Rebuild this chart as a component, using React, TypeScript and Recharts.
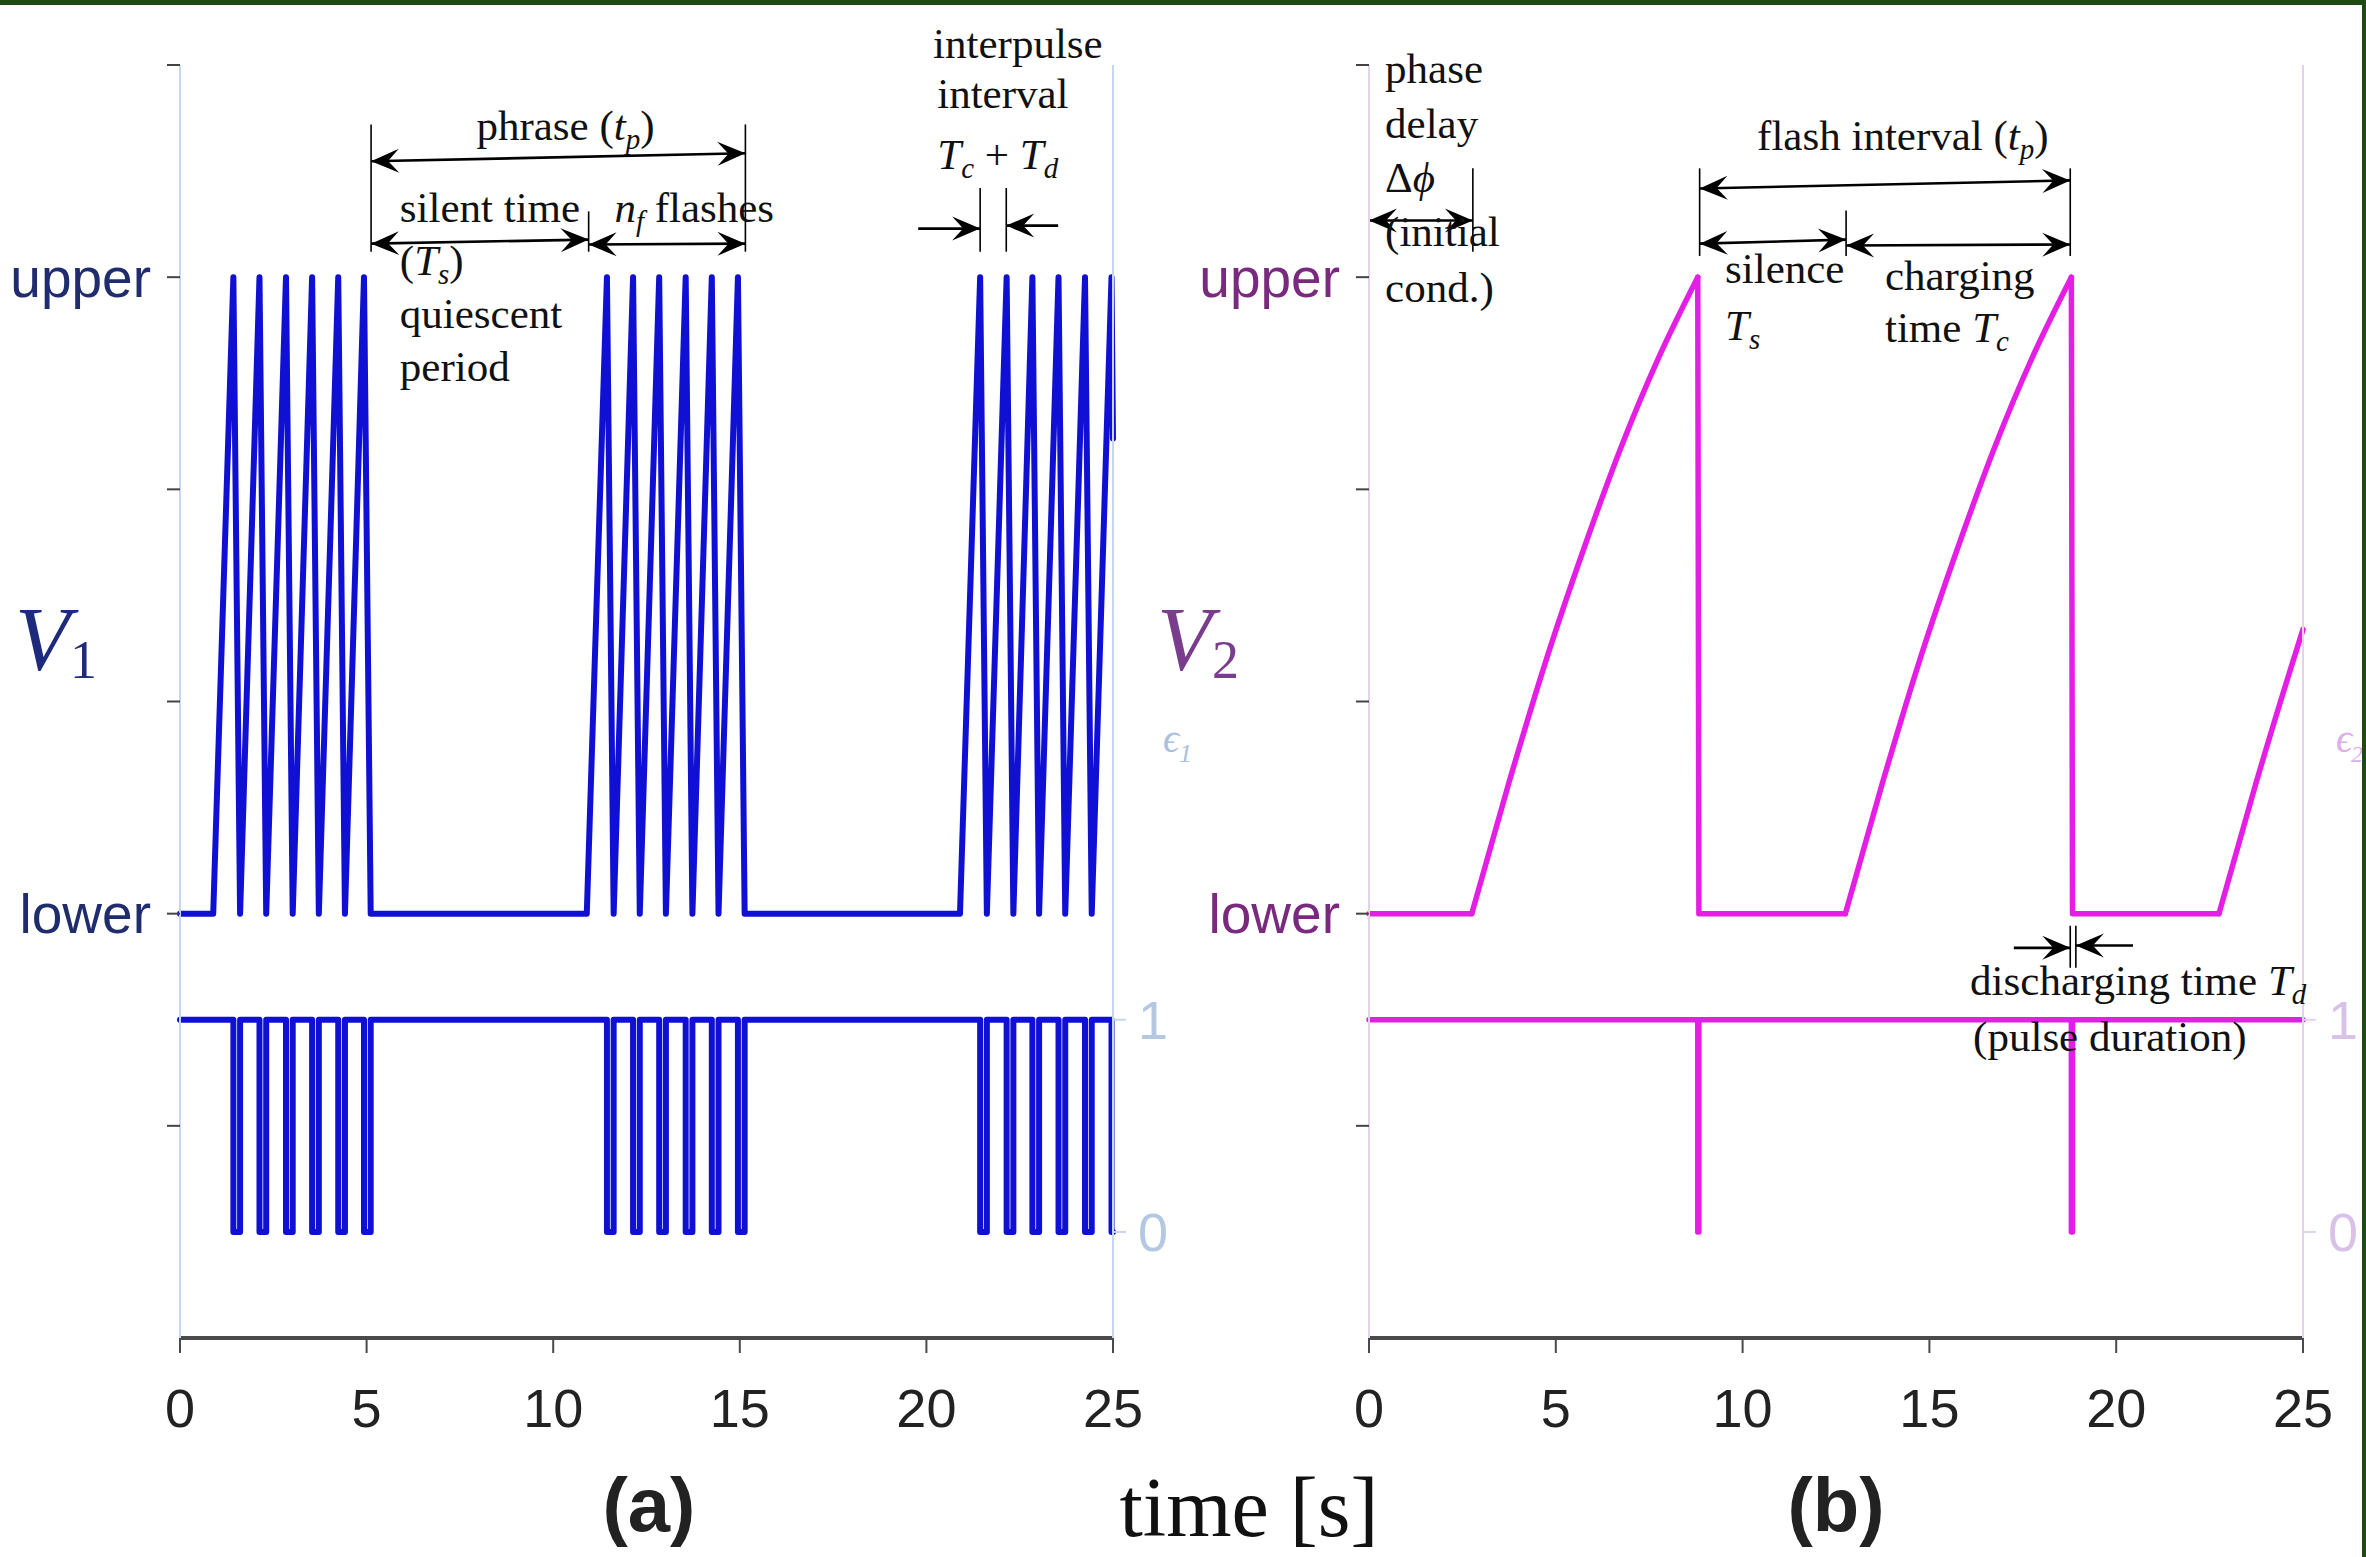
import React from 'react';
import { LineChart, Line, XAxis, YAxis, ReferenceLine, ReferenceDot } from 'recharts';

// shared axes
const X_TICKS = [0, 5, 10, 15, 20, 25];
const LEVEL_TICKS = [-1, 0, 1, 2, 3, 4];
const LEVEL_NAMES: Record<number, string> = { 0: 'lower', 3: 'upper' };
const EPS_TICKS = [0, 1];

type Pt = [number, number | null];

// (a) bursting flasher: [time s, level] with lower = 0, upper = 3
const v1Trace: Pt[] = [
  [0, 0], [0.89, 0],
  [1.43, 3], [1.61, 0], [2.13, 3], [2.31, 0], [2.84, 3], [3.02, 0],
  [3.54, 3], [3.72, 0], [4.24, 3], [4.42, 0], [4.93, 3], [5.11, 0],
  [10.9, 0],
  [11.44, 3], [11.62, 0], [12.14, 3], [12.32, 0], [12.84, 3], [13.02, 0],
  [13.55, 3], [13.73, 0], [14.25, 3], [14.43, 0], [14.95, 3], [15.13, 0],
  [20.9, 0],
  [21.44, 3], [21.62, 0], [22.15, 3], [22.33, 0], [22.84, 3], [23.02, 0],
  [23.54, 3], [23.72, 0], [24.25, 3], [24.43, 0], [24.96, 3], [25, 2.24],
];

const eps1Trace: Pt[] = [
  [0, 1],
  [1.43, 1], [1.43, 0], [1.61, 0], [1.61, 1],
  [2.13, 1], [2.13, 0], [2.31, 0], [2.31, 1],
  [2.84, 1], [2.84, 0], [3.02, 0], [3.02, 1],
  [3.54, 1], [3.54, 0], [3.72, 0], [3.72, 1],
  [4.24, 1], [4.24, 0], [4.42, 0], [4.42, 1],
  [4.93, 1], [4.93, 0], [5.11, 0], [5.11, 1],
  [11.44, 1], [11.44, 0], [11.62, 0], [11.62, 1],
  [12.14, 1], [12.14, 0], [12.32, 0], [12.32, 1],
  [12.84, 1], [12.84, 0], [13.02, 0], [13.02, 1],
  [13.55, 1], [13.55, 0], [13.73, 0], [13.73, 1],
  [14.25, 1], [14.25, 0], [14.43, 0], [14.43, 1],
  [14.95, 1], [14.95, 0], [15.13, 0], [15.13, 1],
  [21.44, 1], [21.44, 0], [21.62, 0], [21.62, 1],
  [22.15, 1], [22.15, 0], [22.33, 0], [22.33, 1],
  [22.84, 1], [22.84, 0], [23.02, 0], [23.02, 1],
  [23.54, 1], [23.54, 0], [23.72, 0], [23.72, 1],
  [24.25, 1], [24.25, 0], [24.43, 0], [24.43, 1],
  [24.96, 1], [24.96, 0], [25, 0],
];

// (b) single flasher: smooth charging ramps, then reset / idle at lower
const v2Charge1: Pt[] = [[2.75, 0], [3.75, 0.62], [4.75, 1.2], [5.75, 1.72], [6.75, 2.2], [7.75, 2.62], [8.8, 3]];
const v2Charge2: Pt[] = [[12.75, 0], [13.75, 0.62], [14.75, 1.2], [15.75, 1.72], [16.75, 2.2], [17.75, 2.62], [18.8, 3]];
const v2Charge3: Pt[] = [[22.75, 0], [23.75, 0.62], [24.75, 1.2], [25, 1.34]];
const v2Idle: Pt[] = [
  [0, 0], [2.75, 0], [5, null],
  [8.8, 3], [8.83, 0], [12.75, 0], [15, null],
  [18.8, 3], [18.83, 0], [22.75, 0],
];

const eps2Trace: Pt[] = [
  [0, 1], [8.8, 1], [8.8, 0], [8.83, 0], [8.83, 1],
  [18.8, 1], [18.8, 0], [18.83, 0], [18.83, 1], [25, 1],
];

type Head = 'none' | 'end' | 'both';
type Seg = { from: [number, number]; to: [number, number]; head: Head };
type Part = string | [string, string];
type Note = { at: [number, number]; parts: Part[]; anchor?: 'start' | 'middle' };

// annotation geometry in (time, level) units
const segsA: Seg[] = [
  { from: [5.12, 3.12], to: [5.12, 3.72], head: 'none' },
  { from: [15.15, 3.12], to: [15.15, 3.72], head: 'none' },
  { from: [5.12, 3.546], to: [15.15, 3.584], head: 'both' },
  { from: [10.95, 3.12], to: [10.95, 3.31], head: 'none' },
  { from: [5.12, 3.158], to: [10.95, 3.177], head: 'both' },
  { from: [10.95, 3.154], to: [15.15, 3.158], head: 'both' },
  { from: [21.44, 3.12], to: [21.44, 3.42], head: 'none' },
  { from: [22.14, 3.12], to: [22.14, 3.42], head: 'none' },
  { from: [19.78, 3.229], to: [21.44, 3.229], head: 'end' },
  { from: [23.53, 3.243], to: [22.14, 3.243], head: 'end' },
];

const notesA: Note[] = [
  { at: [10.33, 3.71], parts: ['phrase (', ['t', 'p'], ')'], anchor: 'middle' },
  { at: [5.89, 3.32], parts: ['silent time'] },
  { at: [5.89, 3.07], parts: ['(', ['T', 's'], ')'] },
  { at: [5.89, 2.82], parts: ['quiescent'] },
  { at: [5.89, 2.57], parts: ['period'] },
  { at: [11.64, 3.32], parts: [['n', 'f'], ' flashes'] },
  { at: [20.18, 4.095], parts: ['interpulse'] },
  { at: [20.29, 3.858], parts: ['interval'] },
  { at: [20.29, 3.57], parts: [['T', 'c'], ' + ', ['T', 'd']] },
];

const segsB: Seg[] = [
  { from: [0, 3.12], to: [0, 3.513], head: 'none' },
  { from: [2.78, 3.12], to: [2.78, 3.513], head: 'none' },
  { from: [0, 3.267], to: [2.78, 3.267], head: 'both' },
  { from: [8.85, 3.1], to: [8.85, 3.513], head: 'none' },
  { from: [18.77, 3.1], to: [18.77, 3.513], head: 'none' },
  { from: [8.85, 3.418], to: [18.77, 3.456], head: 'both' },
  { from: [12.77, 3.1], to: [12.77, 3.314], head: 'none' },
  { from: [8.85, 3.158], to: [12.77, 3.177], head: 'both' },
  { from: [12.77, 3.149], to: [18.77, 3.154], head: 'both' },
  { from: [18.77, -0.057], to: [18.77, -0.255], head: 'none' },
  { from: [18.92, -0.057], to: [18.92, -0.255], head: 'none' },
  { from: [17.26, -0.161], to: [18.77, -0.161], head: 'end' },
  { from: [20.45, -0.15], to: [18.92, -0.15], head: 'end' },
];

const notesB: Note[] = [
  { at: [0.43, 3.976], parts: ['phase'] },
  { at: [0.43, 3.716], parts: ['delay'] },
  { at: [0.43, 3.461], parts: ['Δ', ['ϕ', '']] },
  { at: [0.43, 3.206], parts: ['(initial'] },
  { at: [0.43, 2.946], parts: ['cond.)'] },
  { at: [14.29, 3.66], parts: ['flash interval (', ['t', 'p'], ')'], anchor: 'middle' },
  { at: [9.53, 3.035], parts: ['silence'] },
  { at: [9.53, 2.766], parts: [['T', 's']] },
  { at: [13.81, 3.0], parts: ['charging'] },
  { at: [13.81, 2.757], parts: ['time ', ['T', 'c']] },
  { at: [16.09, -0.32], parts: ['discharging time ', ['T', 'd']] },
  { at: [16.17, -0.586], parts: ['(pulse duration)'] },
];

const SANS = "'Liberation Sans', Arial, sans-serif";
const SERIF = "'Liberation Serif', 'DejaVu Serif', serif";
const NOTE_SIZE = 43;

const toPts = (tr: Pt[]) => tr.map(([t, v]) => ({ t, v }));

function head(x: number, y: number, ux: number, uy: number, key: string) {
  const L = 28, W = 12, B = 17;
  const nx = -uy, ny = ux;
  const bx = x - ux * L, by = y - uy * L;
  const pts = [
    [x, y],
    [bx + nx * W, by + ny * W],
    [x - ux * B, y - uy * B],
    [bx - nx * W, by - ny * W],
  ];
  return <polygon key={key} points={pts.map(p => p.join(',')).join(' ')} fill="#000" />;
}

const arrowShape = (kind: Head) => (p: any) => {
  const { x1, y1, x2, y2 } = p;
  const len = Math.hypot(x2 - x1, y2 - y1) || 1;
  const ux = (x2 - x1) / len, uy = (y2 - y1) / len;
  return (
    <g>
      <line x1={x1} y1={y1} x2={x2} y2={y2} stroke="#000" strokeWidth={kind === 'none' ? 1.6 : 2.6} />
      {kind !== 'none' && head(x2, y2, ux, uy, 'e')}
      {kind === 'both' && head(x1, y1, -ux, -uy, 's')}
    </g>
  );
};

function RichText({ x, y, parts, anchor }: { x: number; y: number; parts: Part[]; anchor?: string }) {
  const nodes: React.ReactNode[] = [];
  let lift = 0;
  parts.forEach((p, i) => {
    if (typeof p === 'string') {
      nodes.push(<tspan key={i} dy={lift || undefined}>{p}</tspan>);
      lift = 0;
    } else {
      nodes.push(<tspan key={i + 'b'} fontStyle="italic" dy={lift || undefined}>{p[0]}</tspan>);
      lift = 0;
      if (p[1]) {
        nodes.push(<tspan key={i + 's'} fontStyle="italic" fontSize={29} dy={9}>{p[1]}</tspan>);
        lift = -9;
      }
    }
  });
  return (
    <text x={x} y={y + 13} textAnchor={anchor || 'start'} fontFamily={SERIF} fontSize={NOTE_SIZE} fill="#111">
      {nodes}
    </text>
  );
}

type Series = { data: Pt[]; axis: 'lvl' | 'eps'; curve: 'linear' | 'monotone' };

type PanelProps = {
  left: number;
  width: number;
  leftW: number;
  rightW: number;
  series: Series[];
  color: string;
  lineW: number;
  nameColor: string;
  axisColor: string;
  epsColor: string;
  segs: Seg[];
  notes: Note[];
};

function Panel(props: PanelProps) {
  const { left, width, leftW, rightW, series, color, lineW, nameColor, axisColor, epsColor, segs, notes } = props;
  return (
    <div style={{ position: 'absolute', left, top: 0 }}>
      <LineChart width={width} height={1557} margin={{ top: 65, right: 0, bottom: 0, left: 0 }}>
        <XAxis
          xAxisId="t"
          dataKey="t"
          type="number"
          domain={[0, 25]}
          ticks={X_TICKS}
          interval={0}
          height={219}
          tickSize={15}
          tickMargin={36}
          axisLine={{ stroke: '#4a4a4a', strokeWidth: 4 }}
          tickLine={{ stroke: '#4a4a4a', strokeWidth: 2 }}
          tick={{ fill: '#222', fontSize: 54, fontFamily: SANS }}
        />
        <YAxis
          yAxisId="lvl"
          domain={[-2, 4]}
          ticks={LEVEL_TICKS}
          interval={0}
          width={leftW}
          tickSize={13}
          tickMargin={16}
          tickFormatter={(val: number) => LEVEL_NAMES[val] ?? ''}
          axisLine={{ stroke: axisColor, strokeWidth: 2 }}
          tickLine={{ stroke: '#444', strokeWidth: 2 }}
          tick={{ fill: nameColor, fontSize: 55, fontFamily: SANS }}
        />
        <YAxis
          yAxisId="eps"
          orientation="right"
          domain={[-0.5, 5.5]}
          ticks={EPS_TICKS}
          interval={0}
          width={rightW}
          tickSize={13}
          tickMargin={12}
          axisLine={{ stroke: axisColor, strokeWidth: 2 }}
          tickLine={{ stroke: axisColor, strokeWidth: 2 }}
          tick={{ fill: epsColor, fontSize: 54, fontFamily: SANS }}
        />
        {series.map((s, i) => (
          <Line
            key={'l' + i}
            xAxisId="t"
            yAxisId={s.axis}
            data={toPts(s.data)}
            dataKey="v"
            type={s.curve}
            stroke={color}
            strokeWidth={lineW}
            strokeLinejoin="round"
            strokeLinecap="round"
            connectNulls={false}
            dot={false}
            isAnimationActive={false}
          />
        ))}
        {segs.map((s, i) => (
          <ReferenceLine
            key={'s' + i}
            xAxisId="t"
            yAxisId="lvl"
            segment={[{ x: s.from[0], y: s.from[1] }, { x: s.to[0], y: s.to[1] }]}
            ifOverflow="visible"
            shape={arrowShape(s.head)}
          />
        ))}
        {notes.map((n, i) => (
          <ReferenceDot
            key={'n' + i}
            xAxisId="t"
            yAxisId="lvl"
            x={n.at[0]}
            y={n.at[1]}
            r={0}
            ifOverflow="visible"
            shape={(p: any) => <RichText x={p.cx} y={p.cy} parts={n.parts} anchor={n.anchor} />}
          />
        ))}
      </LineChart>
    </div>
  );
}

export default function App() {
  return (
    <div
      style={{
        position: 'absolute',
        left: 0,
        top: 0,
        width: 2366,
        height: 1557,
        background: '#fff',
        overflow: 'hidden',
        fontFamily: SANS,
      }}
    >
      <Panel
        left={0}
        width={1200}
        leftW={180}
        rightW={87}
        series={[
          { data: eps1Trace, axis: 'eps', curve: 'linear' },
          { data: v1Trace, axis: 'lvl', curve: 'linear' },
        ]}
        color="#1010d4"
        lineW={6}
        nameColor="#1f2d6e"
        axisColor="#c6d6ec"
        epsColor="#b4c8e4"
        segs={segsA}
        notes={notesA}
      />
      <Panel
        left={1140}
        width={1226}
        leftW={229}
        rightW={63}
        series={[
          { data: eps2Trace, axis: 'eps', curve: 'linear' },
          { data: v2Idle, axis: 'lvl', curve: 'linear' },
          { data: v2Charge1, axis: 'lvl', curve: 'monotone' },
          { data: v2Charge2, axis: 'lvl', curve: 'monotone' },
          { data: v2Charge3, axis: 'lvl', curve: 'monotone' },
        ]}
        color="#e41ee4"
        lineW={5.5}
        nameColor="#7a2a7e"
        axisColor="#e2d2ea"
        epsColor="#d8c2e8"
        segs={segsB}
        notes={notesB}
      />
      <svg width={2366} height={1557} style={{ position: 'absolute', left: 0, top: 0, pointerEvents: 'none' }}>
        <text x={15} y={670} fontFamily={SERIF} fontStyle="italic" fontSize={90} fill="#1e2b7c">V</text>
        <text x={70} y={678} fontFamily={SERIF} fontSize={54} fill="#1e2b7c">1</text>
        <text x={1157} y={670} fontFamily={SERIF} fontStyle="italic" fontSize={90} fill="#7a3c8c">V</text>
        <text x={1212} y={678} fontFamily={SERIF} fontSize={54} fill="#7a3c8c">2</text>
        <text x={1163} y={752} fontFamily={SERIF} fontStyle="italic" fontSize={40} fill="#a9c0e0">ϵ</text>
        <text x={1179} y={762} fontFamily={SERIF} fontStyle="italic" fontSize={26} fill="#a9c0e0">1</text>
        <text x={2336} y={752} fontFamily={SERIF} fontStyle="italic" fontSize={40} fill="#dcaee8">ϵ</text>
        <text x={2351} y={762} fontFamily={SERIF} fontStyle="italic" fontSize={24} fill="#dcaee8">2</text>
        <text x={649} y={1531} textAnchor="middle" fontFamily={SANS} fontWeight="bold" fontSize={76} fill="#222">(a)</text>
        <text x={1836} y={1531} textAnchor="middle" fontFamily={SANS} fontWeight="bold" fontSize={76} fill="#222">(b)</text>
        <text x={1249} y={1536} textAnchor="middle" fontFamily={SERIF} fontSize={84} fill="#111">time [s]</text>
      </svg>
      <div style={{ position: 'absolute', left: 0, top: 0, width: 2366, height: 5, background: '#1e4b12' }} />
      <div style={{ position: 'absolute', right: 0, top: 0, width: 4, height: 1557, background: '#1e4b12' }} />
    </div>
  );
}
